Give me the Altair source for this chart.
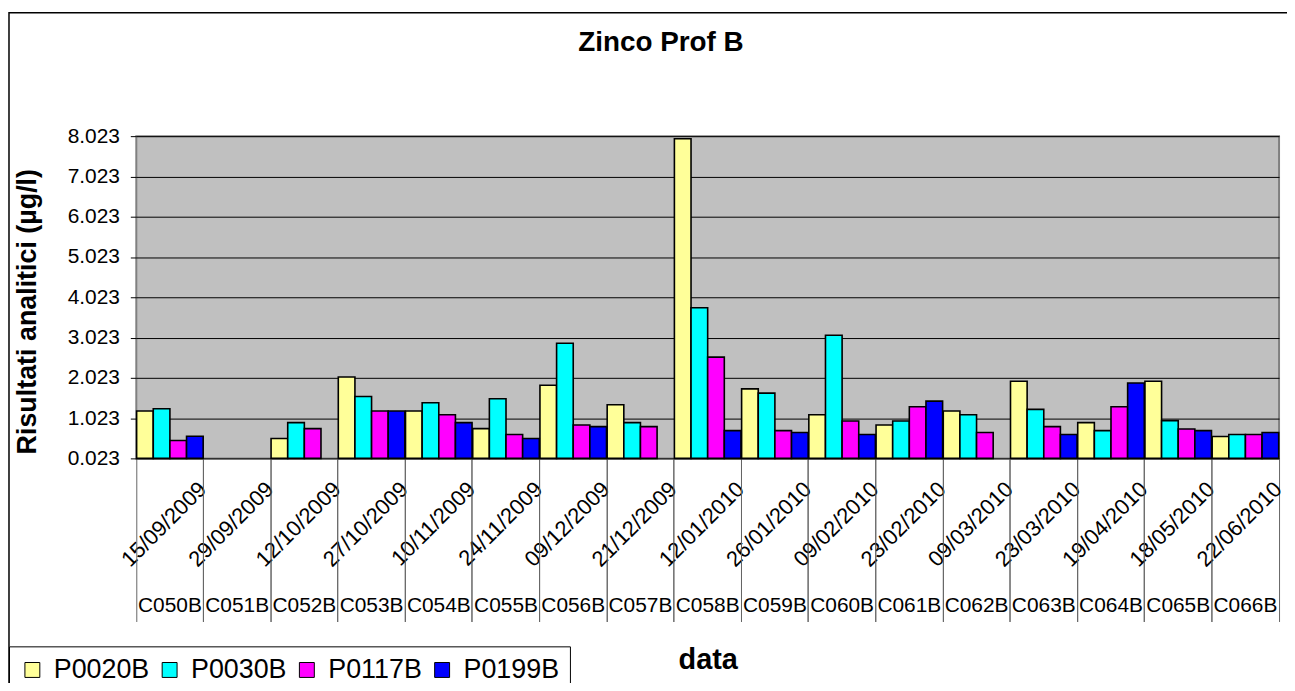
import altair as alt
import pandas as pd

dates = ["15/09/2009", "29/09/2009", "12/10/2009", "27/10/2009", "10/11/2009",
         "24/11/2009", "09/12/2009", "21/12/2009", "12/01/2010", "26/01/2010",
         "09/02/2010", "23/02/2010", "09/03/2010", "23/03/2010", "19/04/2010",
         "18/05/2010", "22/06/2010"]
codes = ["C050B", "C051B", "C052B", "C053B", "C054B", "C055B", "C056B", "C057B",
         "C058B", "C059B", "C060B", "C061B", "C062B", "C063B", "C064B", "C065B", "C066B"]
series = ["P0020B", "P0030B", "P0117B", "P0199B"]
colors = ["#FFFF99", "#00FFFF", "#FF00FF", "#0000FF"]

P0020B = [1.198, None, 0.516, 2.044, 1.198, 0.762, 1.839, 1.354, 7.960, 1.749,
          1.108, 0.853, 1.198, 1.938, 0.910, 1.938, 0.565]
P0030B = [1.256, None, 0.910, 1.560, 1.403, 1.502, 2.883, 0.910, 3.762, 1.642,
          3.080, 0.952, 1.108, 1.239, 0.713, 0.960, 0.615]
P0117B = [0.467, None, 0.762, 1.198, 1.108, 0.615, 0.853, 0.812, 2.537, 0.713,
          0.952, 1.305, 0.664, 0.812, 1.305, 0.754, 0.615]
P0199B = [0.573, None, None, 1.198, 0.910, 0.516, 0.812, None, 0.713, 0.664,
          0.615, 1.444, None, 0.615, 1.896, 0.713, 0.664]

y_ticks = [0.023 + k for k in range(9)]

keys = [f"{d}|{c}" for d, c in zip(dates, codes)]
rows = []
for name, vals in zip(series, [P0020B, P0030B, P0117B, P0199B]):
    for k, v in zip(keys, vals):
        if v is not None:
            rows.append({"key": k, "series": name, "value": v})
df = pd.DataFrame(rows)
cat_df = pd.DataFrame({"key": keys})

W, H = 1149, 324
FONT = "Liberation Sans"

xscale = alt.Scale(domain=keys, paddingInner=0, paddingOuter=0)

bars = alt.Chart(df).mark_bar(stroke="black", strokeWidth=1.6).encode(
    x=alt.X("key:N", sort=keys, scale=xscale,
            axis=alt.Axis(orient="bottom", title=None,
                          labelExpr="split(datum.label, '|')[0]",
                          labelAngle=315, labelAlign="right", labelBaseline="middle",
                          labelOffset=33, labelPadding=-137, labelFontSize=22,
                          labelColor="black", labelOverlap=False, labelBound=False,
                          labelFlush=False,
                          tickSize=164, bandPosition=1, tickColor="#666666",
                          tickWidth=1, domain=False, grid=False)),
    xOffset=alt.XOffset("series:N", sort=series,
                        scale=alt.Scale(domain=series, paddingInner=0, paddingOuter=0.02)),
    y=alt.Y("value:Q",
            scale=alt.Scale(domain=[0.023, 8.023], nice=False, zero=False),
            axis=alt.Axis(values=y_ticks, format=".3f",
                          title="Risultati analitici (µg/l)",
                          titleFontSize=27, titleFontWeight="bold", titleColor="black",
                          titleAngle=270, titleX=-109, titleY=H / 2 + 14,
                          titleAlign="center", titleBaseline="middle",
                          labelFontSize=21, labelColor="black", labelPadding=11,
                          tickSize=6, tickColor="black", domain=False,
                          grid=True, gridColor="black", gridWidth=1)),
    y2=alt.datum(0.023),
    color=alt.Color("series:N", sort=series,
                    scale=alt.Scale(domain=series, range=colors),
                    legend=alt.Legend(title=None, orient="none", legendX=-128, legendY=513,
                                      direction="horizontal", columns=4,
                                      symbolType="square", symbolSize=225,
                                      symbolStrokeColor="black", symbolStrokeWidth=1,
                                      labelFontSize=27, labelColor="black",
                                      labelOffset=8, columnPadding=6,
                                      padding=10, strokeColor="black", fillColor="white")),
)

codes_layer = alt.Chart(cat_df).mark_tick(opacity=0).encode(
    x=alt.X("key:N", sort=keys, scale=xscale,
            axis=alt.Axis(orient="bottom", title="data",
                          titleFontSize=29, titleFontWeight="bold", titleColor="black",
                          titleX=W / 2, titleY=202, titleAlign="center",
                          titleBaseline="middle",
                          labelExpr="split(datum.label, '|')[1]",
                          labelAngle=0, labelAlign="center", labelBaseline="middle",
                          labelPadding=-16, labelFontSize=21, labelColor="black",
                          labelOverlap=False, labelBound=False, labelFlush=False,
                          tickSize=164, bandPosition=0, tickColor="#666666",
                          tickWidth=1, domain=False, grid=False)),
)

frame = alt.Chart(alt.Data(values=[{"f": 1}])).mark_rect(
    fill=None, stroke="black", strokeWidth=1.5
).encode(
    x=alt.value(-128), x2=alt.value(W + 200),
    y=alt.value(-124), y2=alt.value(H + 400),
)

chart = alt.layer(frame, bars, codes_layer).resolve_axis(x="independent").properties(
    width=W, height=H,
    autosize=alt.AutoSizeParams(type="none"),
    padding={"left": 129, "top": 127, "right": 8, "bottom": 224},
    title=alt.TitleParams("Zinco Prof B", fontSize=28, fontWeight="bold", color="black",
                          anchor="middle", dx=-47, offset=-45, font=FONT),
).configure(font=FONT).configure_view(
    fill="#C0C0C0", stroke="#808080", strokeWidth=2
)

chart.save("out.html", embed_options={"renderer": "svg", "actions": False})
